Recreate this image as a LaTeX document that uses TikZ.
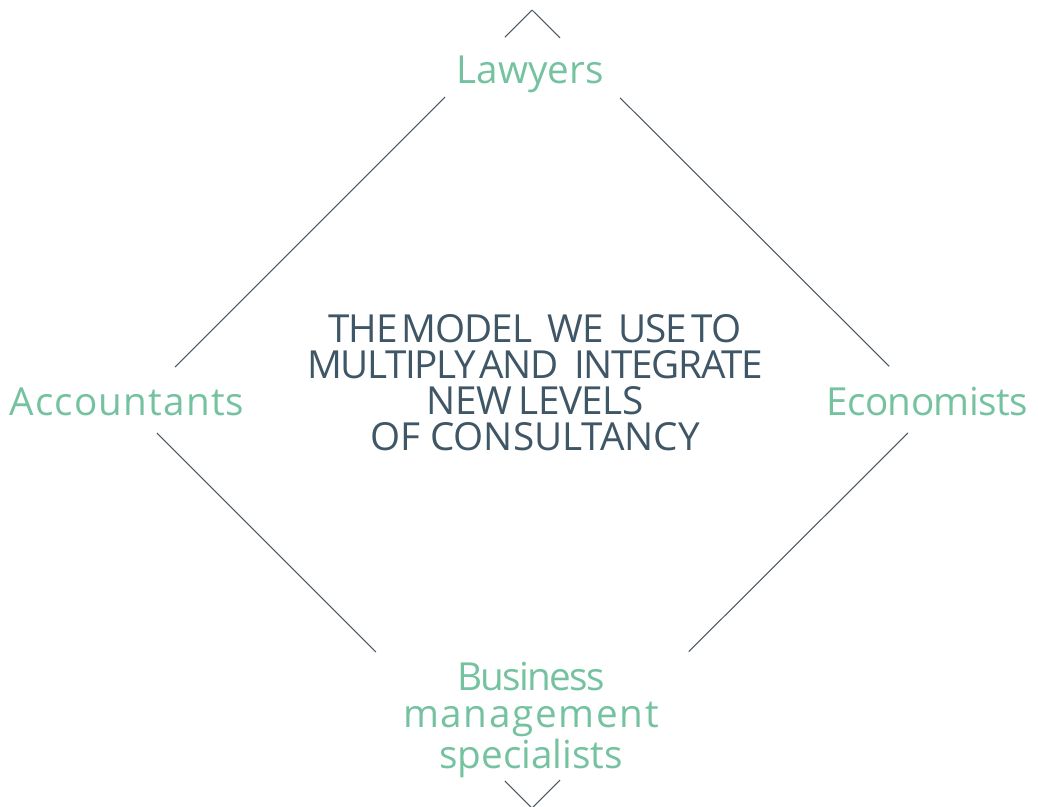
\documentclass[tikz,border=0pt]{standalone}
\usepackage{fontspec}
\setmainfont{Open Sans}
\definecolor{rolegreen}{RGB}{116, 194, 160}
\definecolor{modelslate}{RGB}{63, 86, 102}
\definecolor{edgegray}{RGB}{74, 88, 100}
\usepackage{tikz}
\usetikzlibrary{calc}
\newcommand{\track}[2]{{\addfontfeature{LetterSpace=#1}#2}}

\begin{document}
\begin{tikzpicture}[
  x=0.02cm, y=-0.02cm,
  role/.style={text=rolegreen, font=\fontsize{22}{21}\selectfont, inner sep=0pt, anchor=base, align=center},
  model/.style={text=modelslate, font=\fontsize{22}{20.5}\selectfont, inner sep=0pt, align=center},
  edge/.style={draw=edgegray, line width=0.6pt}
]
  \useasboundingbox (0,0) rectangle (1038,806);

  % Diamond corners
  \coordinate (top) at (532,10);
  \coordinate (left) at (133,409);
  \coordinate (right) at (932,409);
  \coordinate (bottom) at (532,808);

  % Roles
  \node[role] (lawyers) at (530,83) {Lawyers};
  \node[role] (accountants) at (127,415) {\track{3}{Accountants}};
  \node[role] (economists) at (927,415) {\track{-1.5}{Economists}};
  \node[role] (business) at (531,768) {\track{-4.5}{Business}\\\track{4.3}{management}\\specialists};

  % Centre text
  \node[model] (centre) at (535,383) {\track{-3}{THE\hspace{2.5pt}MODEL\hspace{9pt}WE\hspace{8pt}USE\hspace{3pt}TO}\\
    \track{-3.5}{MULTIPLY\hspace{2pt}AND\hspace{9pt}INTEGRATE}\\
    \track{-1.5}{NEW\hspace{4pt}LEVELS}\\
    OF CONSULTANCY};

  % Edges
  \draw[edge] (top) -- ($(top)!0.068!(left)$);
  \draw[edge] (top) -- ($(top)!0.07!(right)$);
  \draw[edge] ($(top)!0.218!(left)$) -- ($(top)!0.895!(left)$);
  \draw[edge] ($(top)!0.22!(right)$) -- ($(top)!0.893!(right)$);
  \draw[edge] ($(left)!0.06!(bottom)$) -- ($(left)!0.609!(bottom)$);
  \draw[edge] ($(right)!0.06!(bottom)$) -- ($(right)!0.608!(bottom)$);
  \draw[edge] ($(left)!0.932!(bottom)$) -- (bottom);
  \draw[edge] ($(right)!0.93!(bottom)$) -- (bottom);
\end{tikzpicture}
\end{document}
